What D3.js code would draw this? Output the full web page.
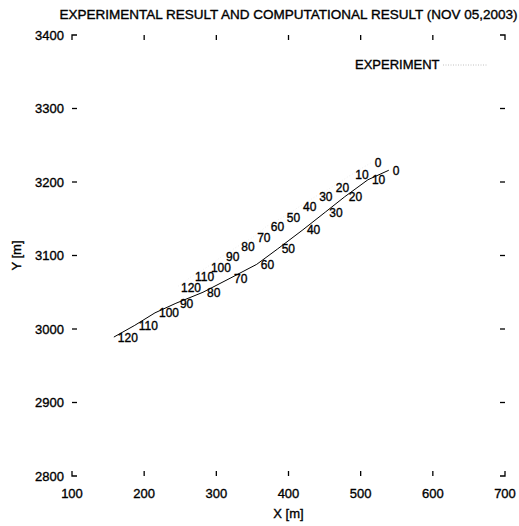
<!DOCTYPE html>
<html>
<head>
<meta charset="utf-8">
<script src="https://cdn.jsdelivr.net/npm/d3@7"></script>
<style>
  body { margin:0; background:#fff; }
  svg text { font-family:"Liberation Sans", Arial, sans-serif; fill:#000; stroke:#000; stroke-width:0.35px; }
</style>
</head>
<body>
<div id="chart"></div>
<script>
// time labels (s) along each track
var times = [0,10,20,30,40,50,60,70,80,90,100,110,120];
// computational track
var compX = [539,510,478,451,420,385,356,319,281.5,244,215,187,158];
var compY = [3216,3203,3180,3159,3135,3109,3088,3069,3050,3035,3022,3005,2989];
// experimental track
var expX = [514,487,460,437,414.5,392,370,351,329,308,287,265,245.5];
var expY = [3226,3210,3193,3180,3166,3152,3140,3125,3112,3099,3084,3071,3057];
var xTicks = [100,200,300,400,500,600,700];
var yTicks = [2800,2900,3000,3100,3200,3300,3400];
var title = "EXPERIMENTAL RESULT AND COMPUTATIONAL RESULT (NOV 05,2003)";

var width = 519, height = 526;
var plotL = 72, plotR = 505, plotT = 35, plotB = 476;
var tk = 5;

var svg = d3.select("#chart").append("svg")
    .attr("width",width)
    .attr("height",height);

var xScale = d3.scaleLinear().domain([100,700]).range([plotL,plotR]);
var yScale = d3.scaleLinear().domain([2800,3400]).range([plotB,plotT]);

// ticks, no axis lines (inner ticks only)
var ticksG = svg.append("g").attr("stroke","#000").attr("stroke-width",1.3);
var innerX = xTicks.slice(1,-1), innerY = yTicks.slice(1,-1);
ticksG.selectAll(".tb").data(innerX).enter().append("line")
    .attr("x1",d=>xScale(d)).attr("x2",d=>xScale(d))
    .attr("y1",plotB).attr("y2",plotB-tk);
ticksG.selectAll(".tt").data(innerX).enter().append("line")
    .attr("x1",d=>xScale(d)).attr("x2",d=>xScale(d))
    .attr("y1",plotT).attr("y2",plotT+tk);
ticksG.selectAll(".tl").data(innerY).enter().append("line")
    .attr("y1",d=>yScale(d)).attr("y2",d=>yScale(d))
    .attr("x1",plotL).attr("x2",plotL+tk);
ticksG.selectAll(".tr").data(innerY).enter().append("line")
    .attr("y1",d=>yScale(d)).attr("y2",d=>yScale(d))
    .attr("x1",plotR).attr("x2",plotR-tk);
// corner marks
var corners = [[plotL,plotT,1,1],[plotR,plotT,-1,1],[plotL,plotB,1,-1],[plotR,plotB,-1,-1]];
ticksG.selectAll(".c").data(corners).enter().append("path")
    .attr("fill","none")
    .attr("d",d=>"M"+(d[0]+d[2]*tk)+","+d[1]+"H"+d[0]+"V"+(d[1]+d[3]*tk));

// tick labels
svg.selectAll(".xl").data(xTicks).enter().append("text")
    .attr("x",d=>xScale(d)).attr("y",plotB+22)
    .attr("text-anchor","middle").attr("font-size",13)
    .text(d=>d);
svg.selectAll(".yl").data(yTicks).enter().append("text")
    .attr("x",plotL-8).attr("y",d=>yScale(d)+4.5)
    .attr("text-anchor","end").attr("font-size",13)
    .text(d=>d);

// title and axis names
svg.append("text")
    .attr("x",(plotL+plotR)/2).attr("y",19)
    .attr("text-anchor","middle").attr("font-size",13)
    .attr("textLength",458).attr("lengthAdjust","spacingAndGlyphs")
    .text(title);
svg.append("text")
    .attr("x",(plotL+plotR)/2).attr("y",518)
    .attr("text-anchor","middle").attr("font-size",13)
    .text("X [m]");
svg.append("text")
    .attr("transform","translate(21,"+((plotT+plotB)/2)+") rotate(-90)")
    .attr("text-anchor","middle").attr("font-size",13)
    .text("Y [m]");

// tracks
var line = d3.line().x(d=>xScale(d[0])).y(d=>yScale(d[1]));
var comp = times.map((t,i)=>[compX[i],compY[i],t]);
var exp = times.map((t,i)=>[expX[i],expY[i],t]);

svg.append("path").datum(exp)
    .attr("fill","none").attr("stroke","#e2e2e2")
    .attr("stroke-width",0.6).attr("stroke-dasharray","1,2")
    .attr("d",line);
svg.append("path").datum(comp)
    .attr("fill","none").attr("stroke","#000")
    .attr("stroke-width",1)
    .attr("d",line);

svg.selectAll(".cl").data(comp).enter().append("text")
    .attr("x",d=>xScale(d[0])+4).attr("y",d=>yScale(d[1])+4.5)
    .attr("font-size",12)
    .text(d=>d[2]);
svg.selectAll(".el").data(exp).enter().append("text")
    .attr("x",d=>xScale(d[0])+4).attr("y",d=>yScale(d[1])+4.5)
    .attr("font-size",12)
    .text(d=>d[2]);

// legend
svg.append("text")
    .attr("x",355).attr("y",69).attr("font-size",13)
    .text("EXPERIMENT");
svg.append("line")
    .attr("x1",443).attr("x2",488).attr("y1",65).attr("y2",65)
    .attr("stroke","#b0b0b0").attr("stroke-width",0.8)
    .attr("stroke-dasharray","1,1.5");
</script>
</body>
</html>
